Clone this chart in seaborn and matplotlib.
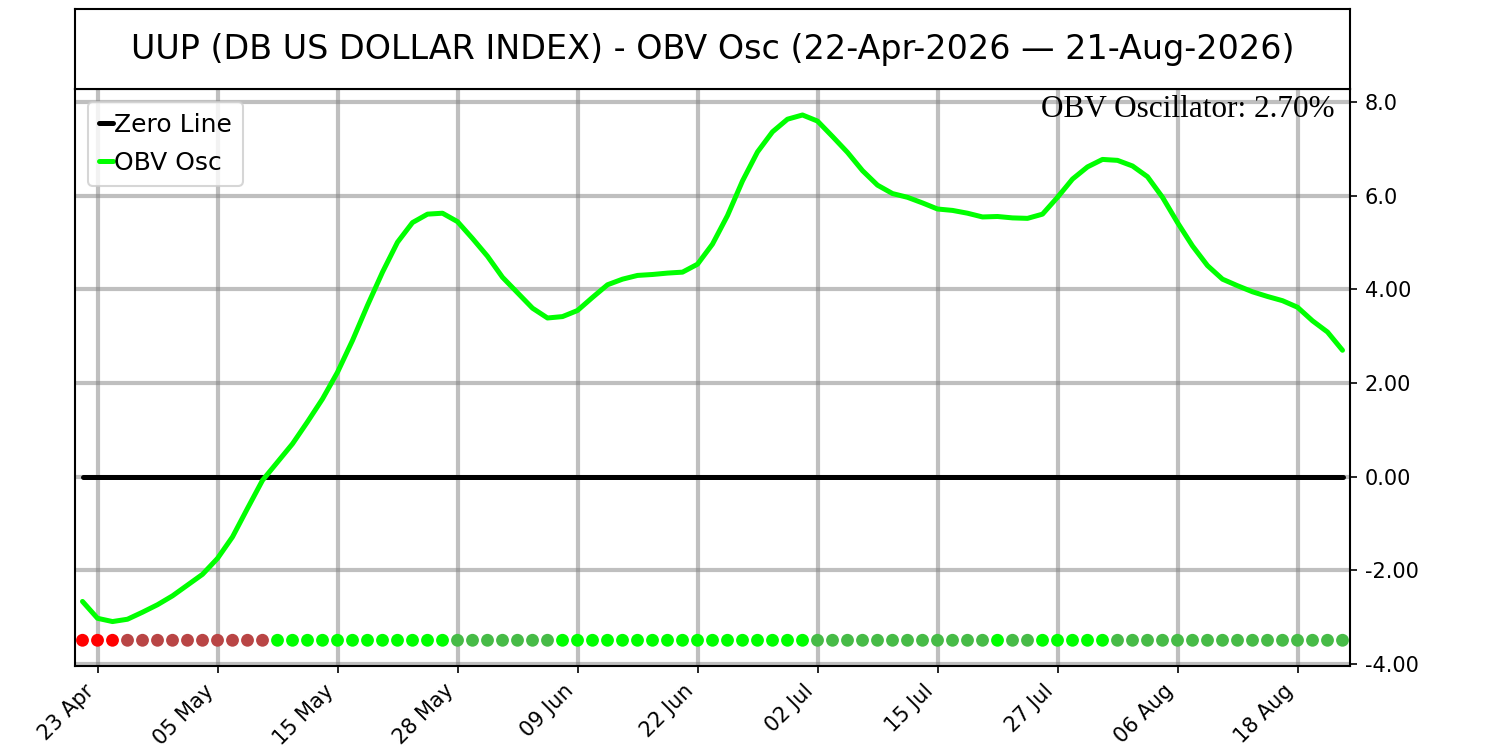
import numpy as np
import pandas as pd
import matplotlib
matplotlib.use("Agg")
import matplotlib.pyplot as plt
import seaborn as sns

# ---------------- data ----------------
obv_osc = [
    -2.67, -3.03, -3.10, -3.05, -2.90, -2.74, -2.55, -2.32, -2.09, -1.75,
    -1.29, -0.68, -0.08, 0.31, 0.70, 1.17, 1.66, 2.23, 2.91, 3.66,
    4.37, 5.01, 5.43, 5.61, 5.63, 5.45, 5.09, 4.71, 4.26, 3.93,
    3.60, 3.39, 3.42, 3.55, 3.83, 4.10, 4.22, 4.30, 4.32, 4.35,
    4.37, 4.54, 4.97, 5.58, 6.32, 6.94, 7.37, 7.64, 7.73, 7.60,
    7.27, 6.93, 6.54, 6.23, 6.05, 5.97, 5.85, 5.72, 5.69, 5.63,
    5.55, 5.56, 5.53, 5.52, 5.61, 5.97, 6.36, 6.62, 6.78, 6.76,
    6.64, 6.41, 5.97, 5.43, 4.93, 4.51, 4.22, 4.08, 3.95, 3.85,
    3.76, 3.62, 3.33, 3.09, 2.70,
]

signal_state = (
    ["fall_neg"] * 3 + ["rise_neg"] * 10 + ["rise_pos"] * 12 + ["fall_pos"] * 7
    + ["rise_pos"] * 17 + ["fall_pos"] * 12 + ["rise_pos"] * 1 + ["fall_pos"] * 2
    + ["rise_pos"] * 5 + ["fall_pos"] * 16
)
signal_level = -3.5

tick_positions = [1, 9, 17, 25, 33, 41, 49, 57, 65, 73, 81]
tick_labels = ["23 Apr", "05 May", "15 May", "28 May", "09 Jun", "22 Jun",
               "02 Jul", "15 Jul", "27 Jul", "06 Aug", "18 Aug"]

ytick_values = [-4, -2, 0, 2, 4, 6, 8]
ytick_labels = ["-4.00", "-2.00", "0.00", "2.00", "4.00", "6.0", "8.0"]

title = "UUP (DB US DOLLAR INDEX) - OBV Osc (22-Apr-2026 \u2014 21-Aug-2026)"
last_label = "OBV Oscillator: 2.70%"

state_palette = {"fall_neg": "#ff0000", "rise_neg": "#b94545",
                 "rise_pos": "#00ff00", "fall_pos": "#47bb47"}

# ---------------- frame ----------------
idx = np.arange(len(obv_osc))
df = pd.DataFrame({"i": idx, "osc": obv_osc, "zero": np.zeros(len(idx)),
                   "sig": np.full(len(idx), signal_level), "state": signal_state})

sns.set_style("ticks")
plt.rcParams["font.family"] = ["DejaVu Sans"]
plt.rcParams["text.color"] = "black"
plt.rcParams["axes.labelcolor"] = "black"
plt.rcParams["xtick.color"] = "black"
plt.rcParams["ytick.color"] = "black"
plt.rcParams["axes.edgecolor"] = "black"

fig = plt.figure(figsize=(10, 5), dpi=150)
ax = fig.add_axes([0.05, 0.112, 0.85, 0.7693])
tax = fig.add_axes([0.05, 0.8813, 0.85, 0.1067])

# title box
tax.set_xticks([])
tax.set_yticks([])
for s in tax.spines.values():
    s.set_visible(True)
    s.set_color("black")
    s.set_linewidth(1.0)
tax.text(0.5, 0.5, title, ha="center", va="center", fontsize=16,
         color="black", transform=tax.transAxes)

# main plot
ax.set_axisbelow(True)
sns.lineplot(data=df, x="i", y="zero", ax=ax, color="black", linewidth=2.4,
             label="Zero Line")
sns.lineplot(data=df, x="i", y="osc", ax=ax, color="#00ff00", linewidth=2.4,
             label="OBV Osc")
sns.scatterplot(data=df, x="i", y="sig", hue="state", palette=state_palette,
                ax=ax, s=38, linewidth=0, legend=False, zorder=3)

ax.set_xlim(-0.5, 84.5)
ax.set_ylim(-4.05, 8.285)
ax.set_xticks(tick_positions)
ax.set_xticklabels(tick_labels, rotation=45, ha="right", fontsize=10,
                   color="black")
ax.set_yticks(ytick_values)
ax.set_yticklabels(ytick_labels, fontsize=10, color="black")
ax.tick_params(axis="y", left=False, labelleft=False, right=True,
               labelright=True, length=3.5, color="black")
ax.tick_params(axis="x", bottom=True, length=3.5, color="black")
ax.set_xlabel("")
ax.set_ylabel("")
ax.grid(True, color="gray", alpha=0.5, linewidth=2)
for s in ax.spines.values():
    s.set_visible(True)
    s.set_color("black")
    s.set_linewidth(1.0)

ax.text(0.988, 0.99, last_label, ha="right", va="top", fontsize=15,
        color="black", family=["Liberation Serif", "DejaVu Serif"],
        transform=ax.transAxes)

handles, labels = ax.get_legend_handles_labels()
leg = ax.legend(handles, labels, loc="upper left", fontsize=12,
                handlelength=0.55, handletextpad=0.05, borderpad=0.45,
                labelspacing=0.55, framealpha=0.8)
for t in leg.get_texts():
    t.set_color("black")

fig.savefig("out.png", dpi=150)
